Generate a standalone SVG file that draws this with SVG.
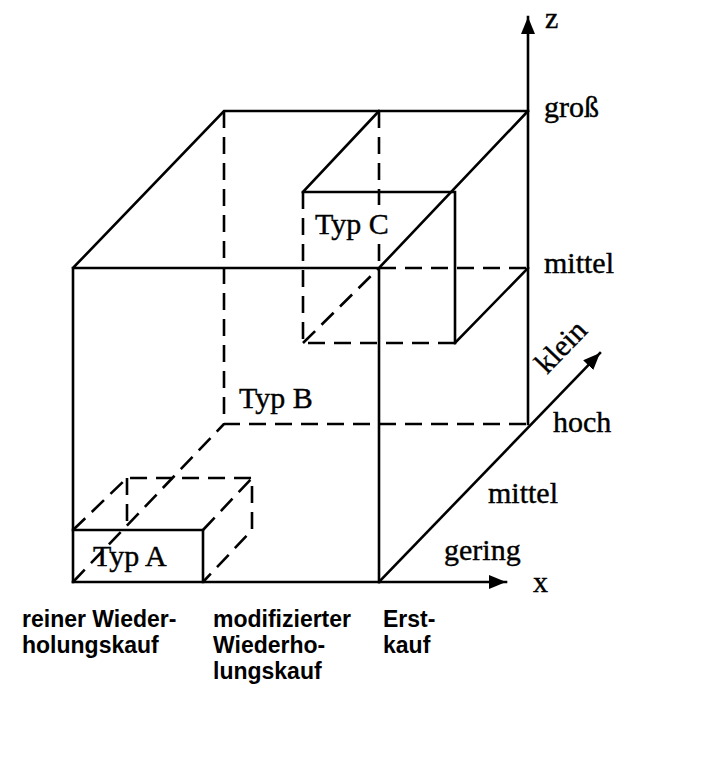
<svg xmlns="http://www.w3.org/2000/svg" width="708" height="763" viewBox="0 0 708 763">
<defs>
<style>
.s{fill:none;stroke:#000;stroke-width:2.6;stroke-linecap:square;stroke-linejoin:miter}
.d{fill:none;stroke:#000;stroke-width:2.6;stroke-dasharray:17 9}
.t{font-family:"Liberation Serif","Times New Roman",serif;font-size:30px;fill:#000;stroke:#000;stroke-width:0.4}
.b{font-family:"Liberation Sans",Arial,sans-serif;font-size:23px;font-weight:bold;fill:#000}
</style>
<marker id="ah" markerUnits="userSpaceOnUse" markerWidth="20" markerHeight="18" refX="17" refY="9" orient="auto">
<path d="M0,2 L17,9 L0,16 Z" fill="#000"/>
</marker>
</defs>
<rect width="708" height="763" fill="#fff"/>
<g id="connectors">
<path id="x-axis" class="s" d="M73,582 H506" marker-end="url(#ah)"/>
<path id="z-axis" class="s" d="M528,424 V17" marker-end="url(#ah)"/>
<path id="y-axis" class="s" d="M379,582 L600,353" marker-end="url(#ah)"/>
<path class="s" d="M73,268 V582 M73,268 H379 V582 M73,268 L224,111 H528 M379,268 L528,111 M455,343 L528,268"/>
<path class="d" d="M224,111 V424 H528 M73,582 L224,424 M379,111 V205 M379,244 V268 M379,268 H528"/>
</g>
<g id="typC">
<path class="s" d="M303,192 L379,111 M303,192 H455 V343"/>
<path class="d" d="M303,192 V343 H455 M303,343 L379,268"/>
<text class="t" x="315" y="234">Typ C</text>
</g>
<g id="typB">
<text class="t" x="239" y="408">Typ B</text>
</g>
<g id="typA">
<path class="s" d="M73,530 H203 V582"/>
<path class="d" d="M73,530 L127,478 H252 V530 L203,582 M127,478 V530 M203,530 L252,478"/>
<text class="t" x="93" y="566">Typ A</text>
</g>
<g id="labels">
<text class="t" x="545" y="28">z</text>
<text class="t" x="544" y="117">groß</text>
<text class="t" x="544" y="273">mittel</text>
<text class="t" transform="translate(547,375) rotate(-46)">klein</text>
<text class="t" x="553" y="432">hoch</text>
<text class="t" x="488" y="503">mittel</text>
<text class="t" x="444" y="560">gering</text>
<text class="t" x="533" y="592">x</text>
<text class="b" x="22" y="627">reiner Wieder-</text>
<text class="b" x="22" y="653">holungskauf</text>
<text class="b" x="213" y="627">modifizierter</text>
<text class="b" x="213" y="653">Wiederho-</text>
<text class="b" x="213" y="679">lungskauf</text>
<text class="b" x="383" y="627">Erst-</text>
<text class="b" x="383" y="653">kauf</text>
</g>
</svg>
